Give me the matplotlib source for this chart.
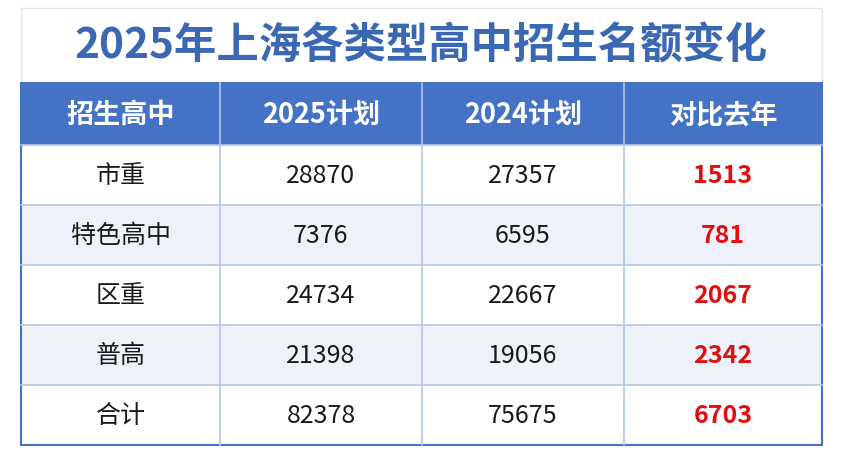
import matplotlib
matplotlib.use('Agg')
import matplotlib.pyplot as plt
from matplotlib.patches import Rectangle

plt.rcParams['font.family'] = ['Noto Sans CJK SC', 'DejaVu Sans']

title = '2025年上海各类型高中招生名额变化'
headers = ['招生高中', '2025计划', '2024计划', '对比去年']
schools = ['市重', '特色高中', '区重', '普高', '合计']
plan_2025 = [28870, 7376, 24734, 21398, 82378]
plan_2024 = [27357, 6595, 22667, 19056, 75675]
diff = [1513, 781, 2067, 2342, 6703]

fig = plt.figure(figsize=(8.48, 4.64), dpi=100)
ax = fig.add_axes([0, 0, 1, 1])
ax.set_xlim(0, 848)
ax.set_ylim(464, 0)
ax.axis('off')

left, right, top = 21, 822, 9
col_x = [21, 220, 422, 624, 822]
head_top, head_bot = 84, 146
row_h = 60

# title area
ax.add_patch(Rectangle((left, top), right - left, head_top - top, facecolor='white',
                       edgecolor='#e6e6e6', lw=1))
ax.text((left + right) / 2, 46, title, ha='center', va='center', fontsize=30.5,
        fontweight='bold', color='#3a68b4')

# header
ax.add_patch(Rectangle((left, head_top), right - left, head_bot - head_top,
                       facecolor='#4472c4', edgecolor='none'))
for i, h in enumerate(headers):
    ax.text((col_x[i] + col_x[i + 1]) / 2, (head_top + head_bot) / 2, h, ha='center',
            va='center', fontsize=19.5, fontweight='bold', color='white')

# body rows
for r in range(len(schools)):
    y0 = head_bot + r * row_h
    fc = 'white' if r % 2 == 0 else '#edf1f9'
    ax.add_patch(Rectangle((left, y0), right - left, row_h, facecolor=fc, edgecolor='none'))
    vals = [schools[r], str(plan_2025[r]), str(plan_2024[r]), str(diff[r])]
    for i, v in enumerate(vals):
        red = i == 3
        ax.text((col_x[i] + col_x[i + 1]) / 2, y0 + row_h / 2, v, ha='center', va='center',
                fontsize=18, color='#e01010' if red else '#1a1a1a',
                fontweight='bold' if red else 'normal')
    ax.plot([left, right], [y0, y0], color='#b4c6e7', lw=1.2)

bottom = head_bot + len(schools) * row_h
for x in col_x[1:-1]:
    ax.plot([x, x], [head_top, bottom], color='#b4c6e7', lw=1.2)
ax.add_patch(Rectangle((left, head_top), right - left, bottom - head_top,
                       facecolor='none', edgecolor='#4472c4', lw=1.5))

fig.savefig('out.png', dpi=100)
